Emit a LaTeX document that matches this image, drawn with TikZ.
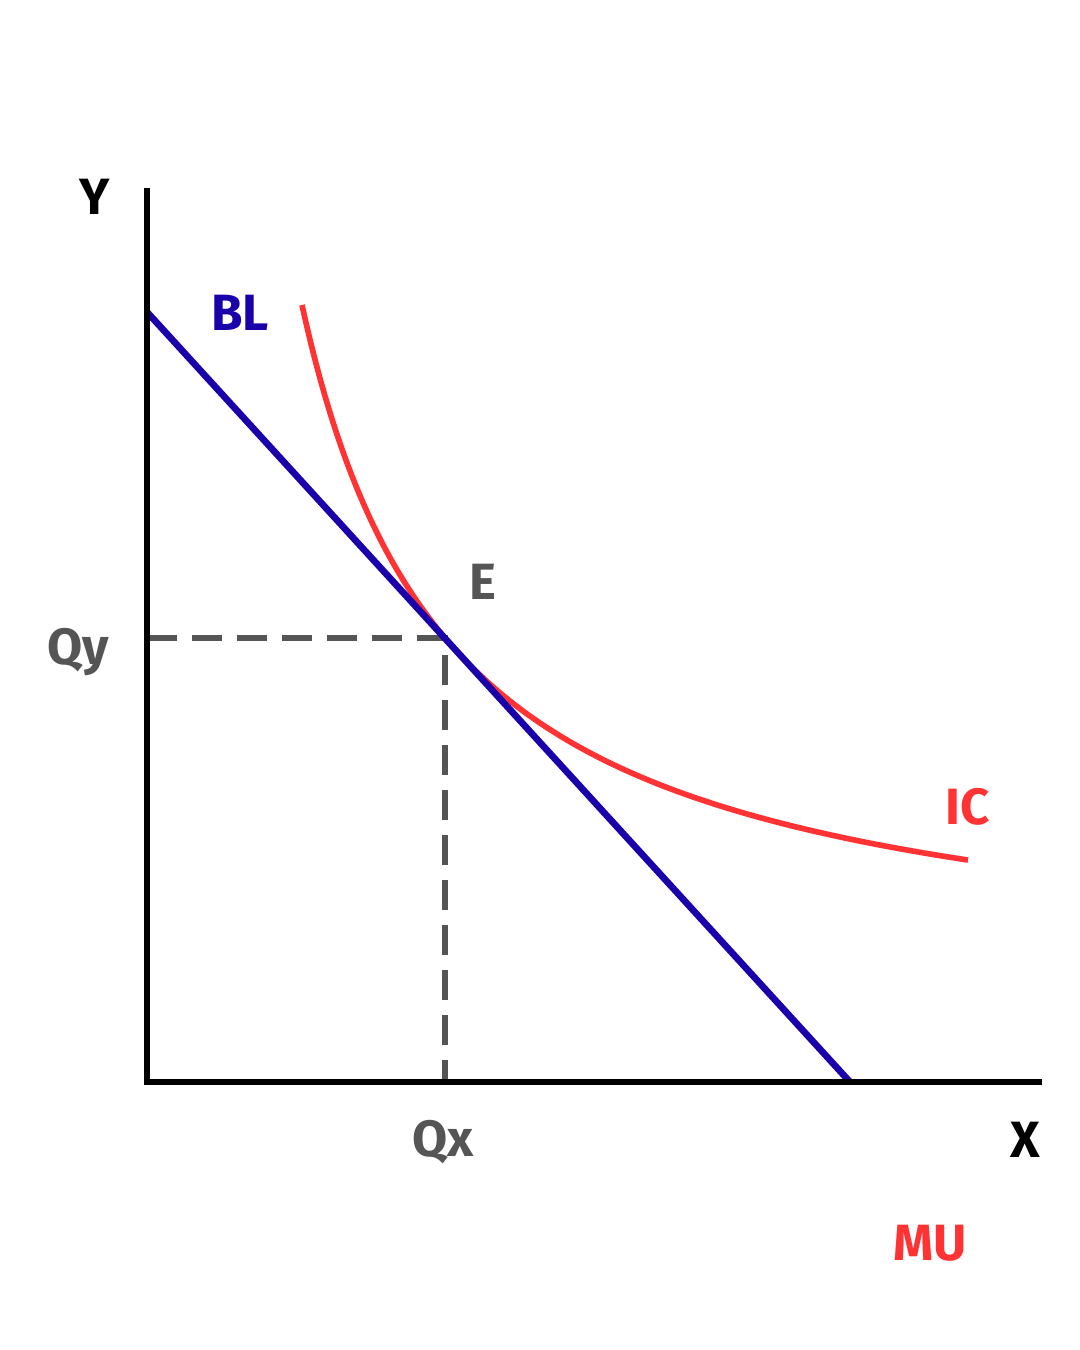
\documentclass[tikz,border=0pt]{standalone}
\usepackage{fontspec}
\setmainfont{Fira Sans}
\definecolor{icred}{HTML}{FF3333}
\definecolor{blblue}{HTML}{1A00AA}
\definecolor{dgray}{HTML}{555555}
\begin{document}
\begin{tikzpicture}[x=0.01cm,y=-0.01cm,
  axis/.style={line width=1.8pt,black},
  budget/.style={line width=1.9pt,blblue},
  icurve/.style={line width=1.6pt,icred},
  guide/.style={line width=1.5pt,dgray,dash pattern=on 8.5pt off 4.3pt},
  lbl/.style={font=\fontsize{14.5}{17}\selectfont\bfseries,inner sep=0pt}]
\useasboundingbox (0,0) rectangle (1080,1350);
\coordinate (O) at (147,1082);
\coordinate (ytop) at (147,188);
\coordinate (xend) at (1042,1082);
\coordinate (bla) at (147,312);
\coordinate (blb) at (850,1082);
\coordinate (E) at (445,638);
\coordinate (qy) at (147,638);
\coordinate (qx) at (445,1082);
% indifference curve
\draw[icurve] plot[domain=302:968,samples=120,smooth] (\x,{983.8-1008.05/((\x-153.5)/100)});
% guides
\draw[guide] (qy) -- (E) -- (qx);
% budget line
\draw[budget] (bla) -- (blb);
% axes
\draw[axis,line cap=butt] (ytop) -- (O) -- (xend);
% labels
\node[lbl] (ylab) at (95,197) {Y};
\node[lbl,text=blblue] (bllab) at (240,313) {BL};
\node[lbl,text=dgray] (elab) at (483,582) {E};
\node[lbl,text=dgray] (qylab) at (78,652) {Qy};
\node[lbl,text=icred] (iclab) at (968,807) {IC};
\node[lbl,text=dgray] (qxlab) at (443,1142) {Qx};
\node[lbl] (xlab) at (1025,1140) {X};
\node[lbl,text=icred] (mulab) at (930,1243) {MU};
\end{tikzpicture}
\end{document}
